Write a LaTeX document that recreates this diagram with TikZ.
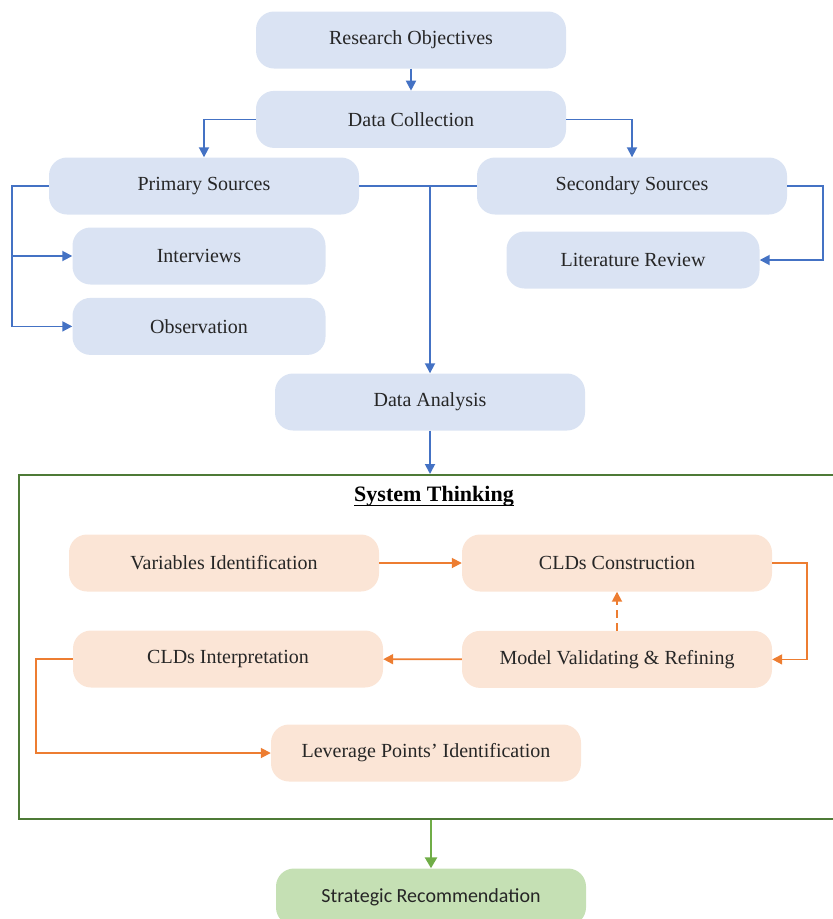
\documentclass[tikz,border=0pt]{standalone}
\usepackage{fontspec}
\setmainfont{Liberation Serif}
\newfontfamily\calibrifont{Carlito}
\usepackage{xcolor}
\usetikzlibrary{arrows.meta, positioning}

\newsavebox\titlebox
\newcommand{\thickul}[1]{\sbox\titlebox{#1}\rlap{\rule[-4.5pt]{\wd\titlebox}{1.8pt}}\usebox\titlebox}

\definecolor{boxblue}{HTML}{DAE3F3}
\definecolor{lineblue}{HTML}{4472C4}
\definecolor{boxorange}{HTML}{FBE5D6}
\definecolor{lineorange}{HTML}{ED7D31}
\definecolor{boxgreen}{HTML}{C5E0B4}
\definecolor{linegreen}{HTML}{70AD47}
\definecolor{framegreen}{HTML}{4E7A36}

\begin{document}
\begin{tikzpicture}[
    x=1pt, y=-1pt,
    block/.style={rectangle, fill=boxblue, rounded corners=18pt, minimum width=310pt, minimum height=57pt, text=black!85, font=\fontsize{20}{24}\selectfont},
    subblock/.style={block, minimum width=253pt},
    sysblock/.style={block, fill=boxorange},
    outcome/.style={block, fill=boxgreen, font=\calibrifont\fontsize{20}{24}\selectfont},
    sysframe/.style={rectangle, draw=framegreen, line width=2pt, minimum width=824pt, minimum height=344pt, anchor=north west},
    bluearrow/.style={-{Triangle[length=10pt,width=10pt]}, draw=lineblue, line width=1.8pt},
    blueline/.style={draw=lineblue, line width=1.8pt},
    orangearrow/.style={-{Triangle[length=10pt,width=10pt]}, draw=lineorange, line width=1.8pt},
    greenarrow/.style={-{Triangle[length=11pt,width=12pt]}, draw=linegreen, line width=2.6pt}
  ]
    \useasboundingbox (0,0) rectangle (833,919);
    \clip (0,0) rectangle (833,919);

    % Data collection part
    \node[block] (objectives) at (411,40) {Research Objectives};
    \node[block, below=22pt of objectives] (collection) {Data Collection};
    \node[block] (primary) at (204,186) {Primary Sources};
    \node[block] (secondary) at (632,186) {Secondary Sources};
    \node[subblock] (interviews) at (199,256) {Interviews};
    \node[subblock, below=13pt of interviews] (observation) {Observation};
    \node[subblock] (literature) at (633,260) {Literature Review};
    \node[block] (analysis) at (430,402) {Data Analysis};

    % System thinking frame
    \node[sysframe] (system) at (18,474) {};
    \node[below=9pt of system.north, xshift=3pt, font=\fontsize{22}{26}\selectfont\bfseries] (systitle) {\thickul{System Thinking}};

    \node[sysblock] (variables) at (224,563) {Variables Identification};
    \node[sysblock] (cldbuild) at (617,563) {CLDs Construction};
    \node[sysblock, below=39pt of cldbuild] (validating) {Model Validating \& Refining};
    \node[sysblock] (cldread) at (228,659) {CLDs Interpretation};
    \node[sysblock] (leverage) at (426,753) {Leverage Points' Identification};

    % Outcome
    \node[outcome] (recommend) at (431,897) {Strategic Recommendation};

    % Arrows - top part
    \draw[bluearrow] (objectives) -- (collection);
    \draw[bluearrow] (collection.west) -| (primary.north);
    \draw[bluearrow] (collection.east) -| (secondary.north);
    \draw[bluearrow] (primary.west) -- ++(-37pt,0pt) |- (interviews.west);
    \draw[bluearrow] (primary.west) -- ++(-37pt,0pt) |- (observation.west);
    \draw[blueline] (primary.east) -- (secondary.west);
    \draw[bluearrow] (analysis.north |- primary.east) -- (analysis.north);
    \draw[bluearrow] (secondary.east) -- ++(36pt,0pt) |- (literature.east);
    \draw[bluearrow] (analysis.south) -- (analysis.south |- system.north);

    % Arrows - system thinking loop
    \draw[orangearrow] (variables) -- (cldbuild);
    \draw[orangearrow] (cldbuild.east) -- ++(35pt,0pt) |- (validating.east);
    \draw[orangearrow, dash pattern=on 8pt off 5pt] (validating) -- (cldbuild);
    \draw[orangearrow] (validating) -- (cldread);
    \draw[orangearrow] (cldread.west) -- ++(-37pt,0pt) |- (leverage.west);

    % Arrow - to recommendation
    \draw[greenarrow] (recommend.north |- system.south) -- (recommend.north);
\end{tikzpicture}
\end{document}
